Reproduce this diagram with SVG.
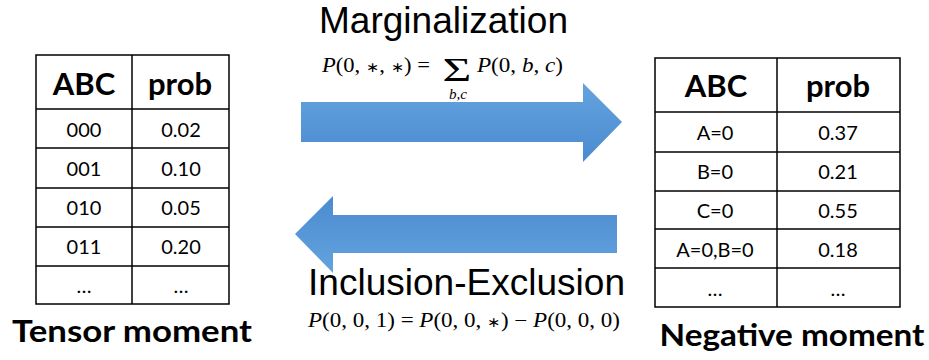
<svg xmlns="http://www.w3.org/2000/svg" width="929" height="360" viewBox="0 0 929 360">
<style>
.grid{fill:none;stroke:#000;stroke-width:1.5}
.hd{font-family:Lato,"Liberation Sans",sans-serif;font-weight:bold;font-size:31px;text-anchor:middle;fill:#000}
.cell{font-family:Lato,"Liberation Sans",sans-serif;font-size:20px;text-anchor:middle;fill:#000}
.cap{font-family:Lato,"Liberation Sans",sans-serif;font-weight:bold;font-size:31px;text-anchor:middle;fill:#000}
.title{font-family:"Liberation Sans",Arial,sans-serif;font-size:37px;fill:#000}
.math{font-family:"Liberation Serif","Times New Roman",serif;font-size:20px;fill:#000}
.sig{font-family:"Liberation Serif","Times New Roman",serif;font-size:33px;fill:#000;text-anchor:middle}
.sub{font-family:"Liberation Serif","Times New Roman",serif;font-size:15px;font-style:italic;fill:#000;text-anchor:middle}
.it{font-style:italic}
.ast{font-size:14px}
</style>
<defs>
<linearGradient id="gr" x1="0" y1="0" x2="0" y2="1">
<stop offset="0" stop-color="#65a3de"/>
<stop offset="1" stop-color="#4a8bd0"/>
</linearGradient>
<linearGradient id="gl" x1="0" y1="0" x2="0" y2="1">
<stop offset="0" stop-color="#4a8bd0"/>
<stop offset="1" stop-color="#65a3de"/>
</linearGradient>
</defs>

<g id="tensor-moment">
<rect class="grid" x="36" y="55" width="193" height="249" fill="#fff"/>
<line class="grid" x1="132" y1="55" x2="132" y2="304"/>
<line class="grid" x1="36" y1="109" x2="229" y2="109"/>
<line class="grid" x1="36" y1="148" x2="229" y2="148"/>
<line class="grid" x1="36" y1="188" x2="229" y2="188"/>
<line class="grid" x1="36" y1="227" x2="229" y2="227"/>
<line class="grid" x1="36" y1="266" x2="229" y2="266"/>
<text class="hd" x="84" y="95">ABC</text>
<text class="hd" x="180" y="95">prob</text>
<text class="cell" x="84" y="137">000</text><text class="cell" x="181" y="137">0.02</text>
<text class="cell" x="84" y="176">001</text><text class="cell" x="181" y="176">0.10</text>
<text class="cell" x="84" y="215">010</text><text class="cell" x="181" y="215">0.05</text>
<text class="cell" x="84" y="254">011</text><text class="cell" x="181" y="254">0.20</text>
<text class="cell" x="84" y="293">…</text><text class="cell" x="181" y="293">…</text>
<text class="cap" x="132" y="342" textLength="240" lengthAdjust="spacingAndGlyphs">Tensor moment</text>
</g>

<g id="negative-moment">
<rect class="grid" x="655" y="58" width="245" height="249" fill="#fff"/>
<line class="grid" x1="777" y1="58" x2="777" y2="307"/>
<line class="grid" x1="655" y1="112" x2="900" y2="112"/>
<line class="grid" x1="655" y1="152" x2="900" y2="152"/>
<line class="grid" x1="655" y1="191" x2="900" y2="191"/>
<line class="grid" x1="655" y1="229" x2="900" y2="229"/>
<line class="grid" x1="655" y1="268" x2="900" y2="268"/>
<text class="hd" x="716" y="97">ABC</text>
<text class="hd" x="838" y="97">prob</text>
<text class="cell" x="715" y="140">A=0</text><text class="cell" x="838" y="140">0.37</text>
<text class="cell" x="715" y="179">B=0</text><text class="cell" x="838" y="179">0.21</text>
<text class="cell" x="715" y="218">C=0</text><text class="cell" x="838" y="218">0.55</text>
<text class="cell" x="715" y="257">A=0,B=0</text><text class="cell" x="838" y="257">0.18</text>
<text class="cell" x="715" y="296">…</text><text class="cell" x="838" y="296">…</text>
<text class="cap" x="792" y="346" textLength="265" lengthAdjust="spacingAndGlyphs">Negative moment</text>
</g>

<g id="connectors">
<g id="marginalization">
<path d="M301,102 H583 V83 L622,122 L583,162 V142 H301 Z" fill="url(#gr)"/>
<text class="title" x="319" y="33" textLength="249" lengthAdjust="spacingAndGlyphs">Marginalization</text>
<text class="math" x="322" y="72" textLength="108" lengthAdjust="spacingAndGlyphs"><tspan class="it">P</tspan>(0, <tspan class="ast">∗</tspan>, <tspan class="ast">∗</tspan>) =</text>
<text class="sig" x="0" y="0" transform="translate(457,81) scale(1.5,1)">Σ</text>
<text class="math" x="477" y="72" textLength="86" lengthAdjust="spacingAndGlyphs"><tspan class="it">P</tspan>(0, <tspan class="it">b</tspan>, <tspan class="it">c</tspan>)</text>
<text class="sub" x="458" y="99">b,c</text>
</g>
<g id="inclusion-exclusion">
<path d="M617,215 H333 V196 L295,234 L333,273 V253 H617 Z" fill="url(#gl)"/>
<text class="title" x="308" y="295" textLength="317" lengthAdjust="spacingAndGlyphs">Inclusion-Exclusion</text>
<text class="math" x="308" y="327" textLength="312" lengthAdjust="spacingAndGlyphs"><tspan class="it">P</tspan>(0, 0, 1) = <tspan class="it">P</tspan>(0, 0, <tspan class="ast">∗</tspan>) − <tspan class="it">P</tspan>(0, 0, 0)</text>
</g>
</g>
</svg>
